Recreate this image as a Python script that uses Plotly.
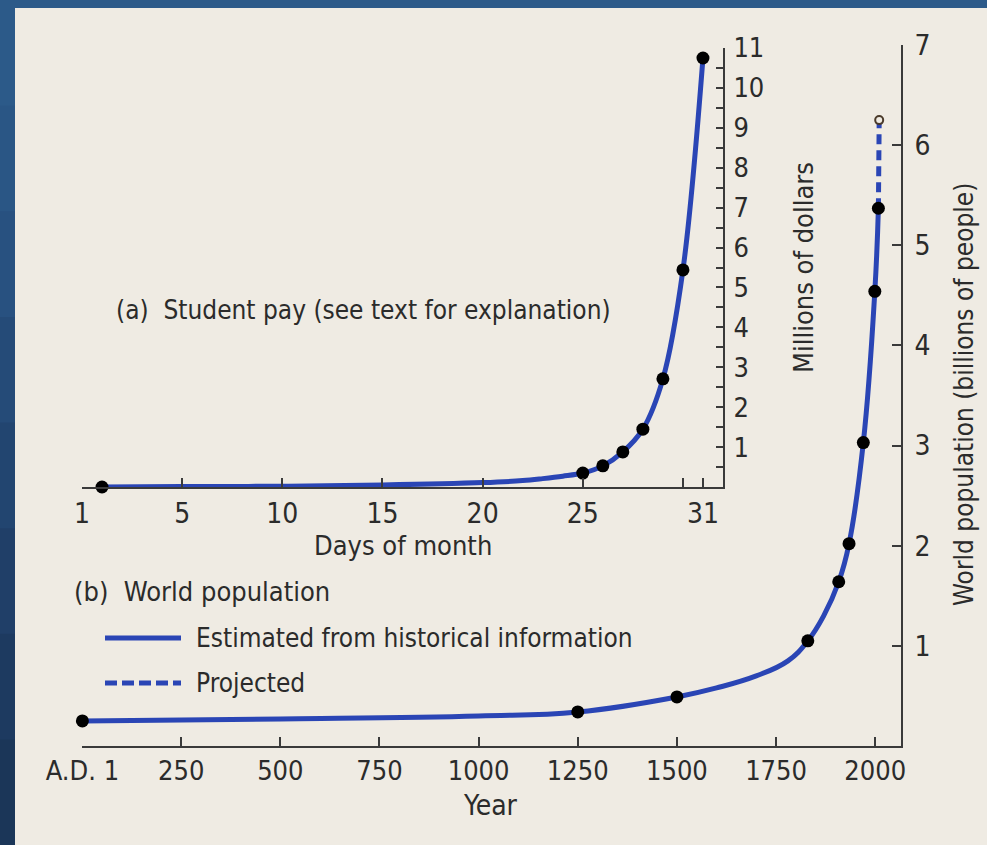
import plotly.graph_objects as go

# ---------------- data ----------------
# (a) Student pay
pay_days = [1, 25, 26, 27, 28, 29, 30, 31]
pay_millions = [0.0, 0.35, 0.53, 0.88, 1.45, 2.71, 5.44, 10.75]
pay_curve_days = [1, 5, 10, 15, 20, 22, 23, 24, 25, 26, 27, 28, 29, 30, 31]
pay_curve_millions = [0.0, 0.01, 0.02, 0.05, 0.11, 0.16, 0.21, 0.27, 0.35, 0.53, 0.88, 1.45, 2.71, 5.44, 10.75]
day_tickvals = [0, 5, 10, 15, 20, 25, 30, 31]
day_ticktext = ["1", "5", "10", "15", "20", "25", "", "31"]
pay_tickvals = [1, 2, 3, 4, 5, 6, 7, 8, 9, 10, 11]

# (b) World population
pop_years = [1, 1250, 1500, 1830, 1908, 1934, 1970, 1999, 2008]
pop_billions = [0.25, 0.34, 0.49, 1.05, 1.64, 2.02, 3.03, 4.54, 5.37]
pop_curve_years = [1, 500, 1000, 1250, 1500, 1600, 1700, 1780, 1830, 1870, 1908, 1934, 1970, 1999, 2008]
pop_curve_billions = [0.25, 0.27, 0.30, 0.34, 0.49, 0.58, 0.70, 0.85, 1.05, 1.30, 1.64, 2.02, 3.03, 4.54, 5.37]
proj_years = [2008, 2010]
proj_billions = [5.37, 6.25]
year_tickvals = [1, 250, 500, 750, 1000, 1250, 1500, 1750, 2000]
year_ticktext = ["A.D. 1", "250", "500", "750", "1000", "1250", "1500", "1750", "2000"]
pop_tickvals = [1, 2, 3, 4, 5, 6, 7]

# ---------------- style ----------------
W, H = 987, 845
L, R, T, B = 82, 86, 45, 99
PW, PH = W - L - R, H - T - B
FONT = "DejaVu Sans Condensed, DejaVu Sans, sans-serif"
TXT = "#2b2b2b"
BLUE = "#2a45b5"
AX = "#3a3a3a"
BG = "#efebe3"


def px_x(px):
    return (px - L) / PW


def px_y(py):
    return (H - B - py) / PH


fig = go.Figure()

# (b) population curve
fig.add_trace(go.Scatter(x=pop_curve_years, y=pop_curve_billions, mode="lines",
                         line=dict(color=BLUE, width=5, shape="spline", smoothing=1.2),
                         name="Estimated from historical information", cliponaxis=False,
                         showlegend=False))
fig.add_trace(go.Scatter(x=proj_years, y=proj_billions, mode="lines",
                         line=dict(color=BLUE, width=5, dash="10px,6px"),
                         name="Projected", cliponaxis=False, showlegend=False))
fig.add_trace(go.Scatter(x=pop_years, y=pop_billions, mode="markers",
                         marker=dict(color="black", size=13), cliponaxis=False,
                         showlegend=False))
fig.add_trace(go.Scatter(x=proj_years[-1:], y=proj_billions[-1:], mode="markers",
                         marker=dict(color=BG, size=8, line=dict(color="#4a3a2a", width=2)),
                         cliponaxis=False, showlegend=False))

# (a) student pay
fig.add_trace(go.Scatter(x=pay_curve_days, y=pay_curve_millions, mode="lines",
                         line=dict(color=BLUE, width=5, shape="spline", smoothing=1.0),
                         xaxis="x2", yaxis="y2", cliponaxis=False, showlegend=False))
fig.add_trace(go.Scatter(x=pay_days, y=pay_millions, mode="markers",
                         marker=dict(color="black", size=13),
                         xaxis="x2", yaxis="y2", cliponaxis=False, showlegend=False))

fig.update_layout(
    width=W, height=H,
    margin=dict(l=L, r=R, t=T, b=B),
    paper_bgcolor=BG, plot_bgcolor="rgba(0,0,0,0)",
    font=dict(family=FONT, color=TXT),
    xaxis=dict(range=[0, 2065], tickvals=year_tickvals, ticktext=year_ticktext,
               showgrid=False, zeroline=False, showline=True, linecolor=AX, linewidth=2,
               ticks="inside", ticklen=9, tickwidth=2, tickcolor=AX,
               tickfont=dict(family=FONT, size=27, color=TXT),
               anchor="y", domain=[0, 1]),
    yaxis=dict(range=[0, 7], tickvals=pop_tickvals, side="right",
               showgrid=False, zeroline=False, showline=True, linecolor=AX, linewidth=2,
               ticks="inside", ticklen=9, tickwidth=2, tickcolor=AX,
               tickfont=dict(family=FONT, size=28, color=TXT), ticklabelstandoff=6,
               anchor="x", domain=[0, 1]),
    xaxis2=dict(range=[0, 32], tickvals=day_tickvals, ticktext=day_ticktext,
                showgrid=False, zeroline=False, showline=True, linecolor=AX, linewidth=2,
                ticks="inside", ticklen=9, tickwidth=2, tickcolor=AX,
                tickfont=dict(family=FONT, size=28, color=TXT),
                anchor="y2", domain=[px_x(82), px_x(723)]),
    yaxis2=dict(range=[0, 11], tickvals=pay_tickvals, side="right",
                showgrid=False, zeroline=False, showline=True, linecolor=AX, linewidth=2,
                ticks="inside", ticklen=7, tickwidth=2, tickcolor=AX,
                minor=dict(dtick=0.5, tick0=0, ticks="inside", ticklen=7, tickwidth=2, tickcolor=AX),
                tickfont=dict(family=FONT, size=27, color=TXT), ticklabelstandoff=3,
                anchor="x2", domain=[px_y(487), px_y(48)]),
)

# border (frame of the slide)
shapes = [
    dict(type="rect", xref="paper", yref="paper", x0=px_x(0), x1=px_x(W), y0=px_y(0), y1=px_y(8),
         fillcolor="#2c5a89", line=dict(width=0), layer="above"),
]
left_cols = ["#2c5a89", "#2a5685", "#285180", "#254b78", "#224570", "#203f68", "#1d3a60", "#1b3658"]
n = len(left_cols)
for i, c in enumerate(left_cols):
    shapes.append(dict(type="rect", xref="paper", yref="paper", x0=px_x(0), x1=px_x(15),
                       y0=px_y(i * H / n), y1=px_y((i + 1) * H / n + 1),
                       fillcolor=c, line=dict(width=0), layer="above"))
# legend samples
shapes.append(dict(type="line", xref="paper", yref="paper", x0=px_x(105), x1=px_x(181),
                   y0=px_y(638), y1=px_y(638), line=dict(color=BLUE, width=5)))
shapes.append(dict(type="line", xref="paper", yref="paper", x0=px_x(105), x1=px_x(181),
                   y0=px_y(683), y1=px_y(683), line=dict(color=BLUE, width=5, dash="12px,5px")))
fig.update_layout(shapes=shapes)


def ann(text, x, y, size=26, xanchor="left", angle=0):
    fig.add_annotation(text=text, x=px_x(x), y=px_y(y), xref="paper", yref="paper",
                       showarrow=False, xanchor=xanchor, yanchor="middle", textangle=angle,
                       font=dict(family=FONT, size=size, color=TXT))


ann("(a)  Student pay (see text for explanation)", 114, 310, size=26)
ann("Days of month", 403, 545, size=27, xanchor="center")
ann("(b)  World population", 72, 591, size=27)
ann("Estimated from historical information", 194, 638, size=26)
ann("Projected", 194, 683, size=26)
ann("Year", 490, 805, size=28, xanchor="center")
ann("Millions of dollars", 803, 268, size=27, xanchor="center", angle=-90)
ann("World population (billions of people)", 964, 395, size=26, xanchor="center", angle=-90)

fig.write_html("out.html", config={"displayModeBar": False},
               post_script="document.body.style.margin='0';")
